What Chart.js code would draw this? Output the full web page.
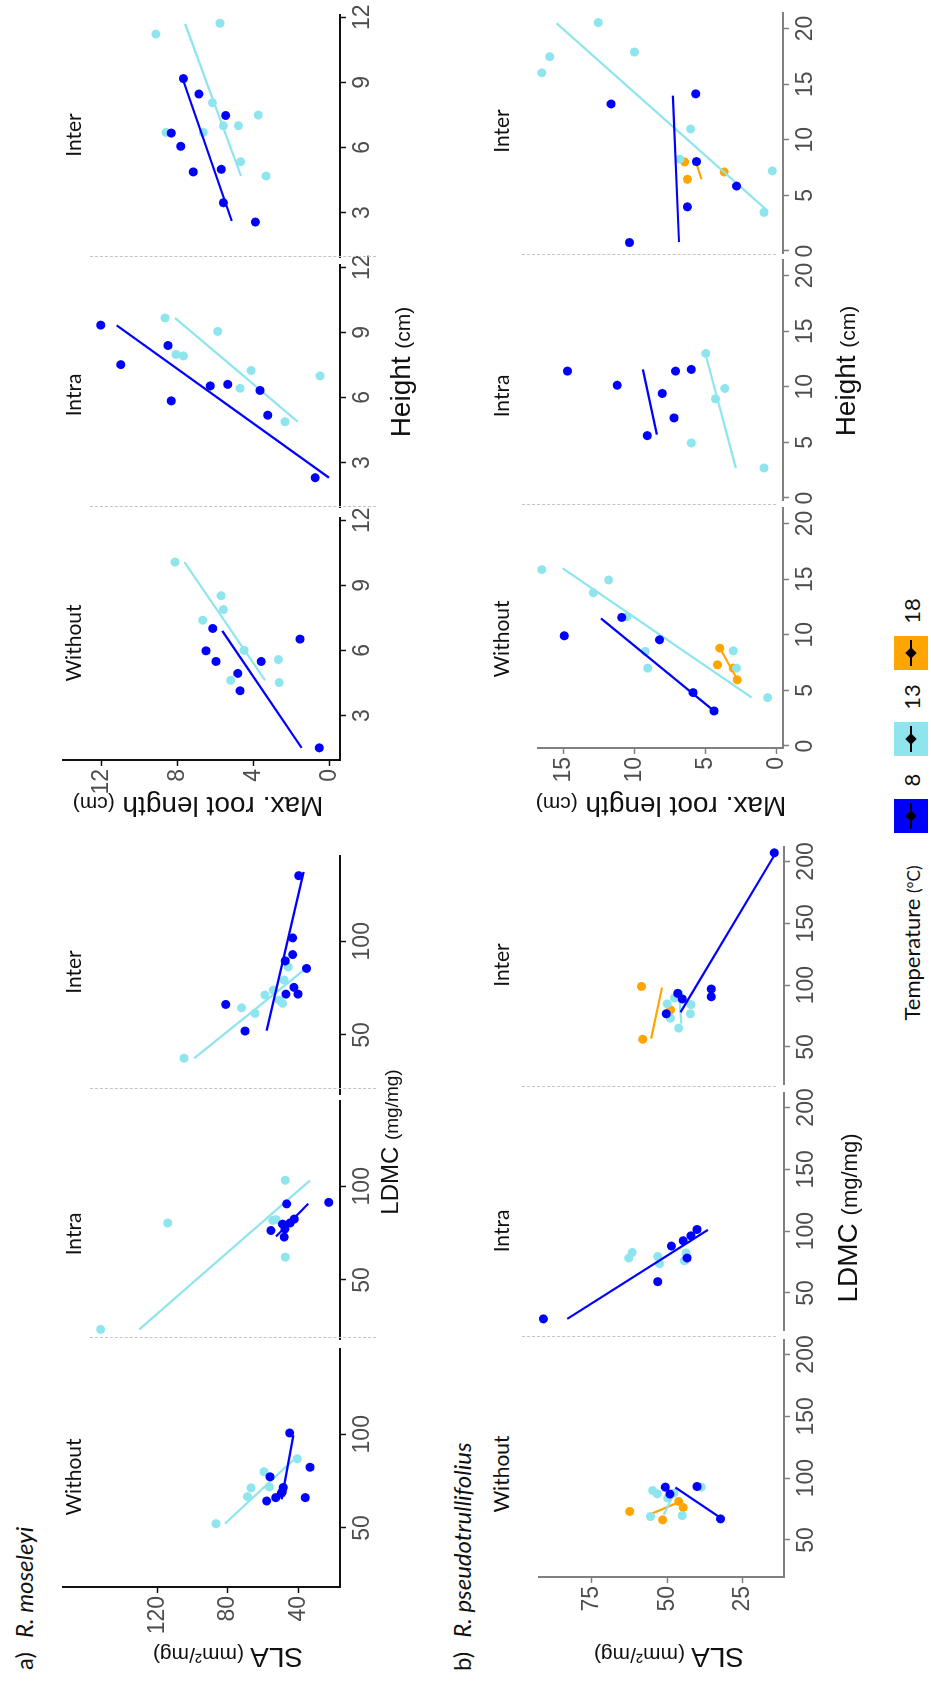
<!DOCTYPE html>
<html>
<head>
<meta charset="utf-8">
<script src="https://cdn.jsdelivr.net/npm/chart.js@4.4.0/dist/chart.umd.min.js"></script>
<style>
    html, body { margin: 0; padding: 0; background: #fff; overflow: hidden; width: 931px; height: 1686px; }
    /* the figure is laid out landscape, then turned a quarter turn to the left */
    #fig { position: absolute; left: 0; top: 0; width: 1686px; height: 931px;
           transform-origin: 0 0; transform: translate(0, 1686px) rotate(-90deg); }
    #fig canvas { position: absolute; }
    .txt { position: absolute; white-space: nowrap; line-height: 1; transform: translate(-50%, -50%); color: #111; }
    .dash { position: absolute; width: 0; border-left: 1.5px dashed #c4c4c4; }
</style>
</head>
<body>
<div id="fig"></div>
<script>
// ---------- data: [x, y] pairs ----------
// a) R. moseleyi — SLA (y) against LDMC (x)
const aSlaWithout8 = [[100.7, 45.1], [77.3, 56.2], [64.4, 58.1], [66.2, 53.0], [69.3, 49.3], [71.6, 48.7], [68.5, 49.8], [66.2, 36.3], [82.4, 33.6]];
const aSlaWithout13 = [[52.3, 86.8], [66.7, 68.9], [71.4, 67.0], [80.0, 59.6], [71.9, 56.6], [86.9, 40.8]];
const aSlaWithoutFit8 = [[65.3, 49.6], [99.5, 43.0]];
const aSlaWithoutFit13 = [[52.3, 81.7], [86.3, 43.0]];

const aSlaIntra8 = [[90.6, 46.8], [91.4, 23.0], [76.4, 55.7], [79.8, 49.1], [77.2, 47.8], [72.9, 48.2], [80.4, 44.9], [82.5, 42.5]];
const aSlaIntra13 = [[23.6, 152.1], [80.4, 114.1], [103.2, 47.6], [81.8, 54.7], [82.2, 52.8], [62.2, 47.6]];
const aSlaIntraFit8 = [[73.2, 52.8], [90.7, 34.6]];
const aSlaIntraFit13 = [[23.6, 130.2], [103.1, 33.6]];

const aSlaInter8 = [[66.3, 81.3], [52.1, 70.4], [71.8, 47.2], [101.8, 43.4], [92.9, 43.4], [89.5, 47.6], [75.4, 42.7], [71.8, 40.4], [85.5, 35.5], [135, 40]];
const aSlaInter13 = [[37.6, 104.9], [64.5, 72.3], [61.5, 64.7], [71.3, 59.1], [73.9, 54.4], [68.6, 51.0], [66.9, 49.1], [79.3, 48.2], [86.3, 45.9]];
const aSlaInterFit8 = [[52.3, 58.1], [137, 37.2]];
const aSlaInterFit13 = [[37.6, 99.1], [85.1, 36.4]];

// a) R. moseleyi — max. root length (y) against height (x)
const aRootWithout8 = [[1.51, 0.53], [6.52, 1.55], [5.49, 3.6], [5.98, 6.51], [5.49, 5.98], [7.01, 6.15], [4.94, 4.83], [4.14, 4.71]];
const aRootWithout13 = [[10.07, 8.14], [8.52, 5.71], [7.88, 5.59], [7.39, 6.68], [4.62, 5.2], [5.58, 2.69], [4.52, 2.65], [6.0, 4.5]];
const aRootWithoutFit8 = [[1.51, 1.46], [6.9, 5.65]];
const aRootWithoutFit13 = [[4.62, 3.39], [10.07, 7.65]];

const aRootIntra8 = [[8.39, 8.51], [5.84, 8.34], [6.53, 6.28], [6.6, 5.36], [6.32, 3.66], [5.18, 3.25], [2.3, 0.75], [9.33, 12.06], [7.51, 11.0]];
const aRootIntra13 = [[9.66, 8.67], [7.98, 8.09], [7.91, 7.7], [9.04, 5.89], [7.24, 4.13], [6.42, 4.71], [4.88, 2.34], [6.99, 0.49]];
const aRootIntraFit8 = [[2.3, 0.02], [9.32, 11.22]];
const aRootIntraFit13 = [[4.88, 1.67], [9.66, 8.14]];

const aRootInter8 = [[9.17, 7.7], [8.46, 6.88], [7.47, 5.47], [6.66, 8.34], [6.05, 7.84], [4.87, 7.18], [4.99, 5.7], [3.45, 5.59], [2.56, 3.9]];
const aRootInter13 = [[11.22, 9.15], [11.72, 5.77], [8.06, 6.17], [6.69, 8.62], [6.69, 6.65], [7.0, 5.59], [7.0, 4.8], [7.49, 3.75], [5.34, 4.68], [4.68, 3.34]];
const aRootInterFit8 = [[2.61, 5.15], [9.22, 7.76]];
const aRootInterFit13 = [[4.68, 4.66], [11.69, 7.61]];

// b) R. pseudotrullifolius — SLA (y) against LDMC (x)
const bSlaWithout8 = [[92.7, 50.6], [93.2, 40.1], [67.0, 32.3], [87.1, 49.1]];
const bSlaWithout13 = [[90.0, 54.8], [87.3, 53.3], [92.7, 38.7], [83.8, 49.8], [87.8, 47.8], [68.9, 55.5], [69.7, 45.0]];
const bSlaWithout18 = [[73.0, 62.4], [66.2, 51.5], [81.1, 46.2], [76.2, 44.7]];
const bSlaWithoutFit8 = [[67.0, 31.8], [92.4, 47.3]];
const bSlaWithoutFit13 = [[70.3, 51.1], [88.4, 47.6]];
const bSlaWithoutFit18 = [[70.8, 55.5], [81.1, 45.6]];

const bSlaIntra8 = [[29.0, 91.0], [59.1, 53.1], [87.9, 48.6], [92.2, 44.7], [96.2, 42.1], [101.3, 40.1], [78.2, 43.4]];
const bSlaIntra13 = [[78.2, 62.7], [82.7, 61.6], [73.6, 52.5], [79.5, 53.1], [82.3, 43.7], [76.0, 44.3]];
const bSlaIntraFit8 = [[29.0, 83.1], [101.0, 36.5]];

const bSlaInter8 = [[76.8, 50.3], [93.3, 46.5], [96.8, 35.4], [90.6, 35.4], [88.8, 45.0], [207, 14.5]];
const bSlaInter13 = [[84.8, 50.0], [73.2, 48.9], [65.2, 46.2], [76.8, 42.3], [84.2, 42.1], [93.3, 46.2], [89.6, 47.6]];
const bSlaInter18 = [[98.9, 58.5], [56.2, 58.1], [80.0, 48.9], [90.6, 46.7]];
const bSlaInterFit8 = [[78.0, 45.6], [205, 14.5]];
const bSlaInterFit13 = [[68.8, 45.3], [91.4, 46.0]];
const bSlaInterFit18 = [[56.7, 55.3], [98.0, 51.7]];

// b) R. pseudotrullifolius — max. root length (y) against height (x)
const bRootWithout8 = [[9.91, 14.98], [11.56, 10.93], [9.55, 8.26], [4.8, 5.9], [3.15, 4.42]];
const bRootWithout13 = [[15.86, 16.56], [14.93, 11.85], [13.78, 12.93], [11.62, 10.57], [8.5, 9.27], [7.0, 9.09], [8.56, 3.07], [7.0, 2.83], [4.35, 0.64]];
const bRootWithout18 = [[8.8, 4.01], [7.3, 4.18], [7.0, 3.07], [5.95, 2.79]];
const bRootWithoutFit8 = [[2.97, 4.25], [11.47, 12.39]];
const bRootWithoutFit13 = [[4.36, 1.77], [15.98, 15.1]];
const bRootWithoutFit18 = [[6.1, 2.83], [8.8, 4.01]];

const bRootIntra8 = [[10.14, 11.25], [9.4, 8.07], [7.2, 7.24], [5.61, 9.13], [11.41, 14.75], [11.41, 7.13], [11.56, 6.02]];
const bRootIntra13 = [[4.95, 6.02], [8.92, 4.32], [9.85, 3.66], [2.7, 0.9], [13.0, 5.0]];
const bRootIntraFit8 = [[5.7, 8.45], [11.56, 9.44]];
const bRootIntraFit13 = [[2.7, 2.88], [12.6, 4.95]];

const bRootInter8 = [[13.22, 11.68], [14.13, 5.71], [8.04, 5.66], [5.84, 2.83], [3.97, 6.3], [0.76, 10.38]];
const bRootInter13 = [[20.54, 12.58], [17.89, 10.03], [17.47, 16.0], [16.02, 16.56], [10.97, 6.07], [8.26, 6.84], [7.2, 0.31], [3.47, 0.9]];
const bRootInter18 = [[8.01, 6.49], [6.45, 6.3], [7.11, 3.71]];
const bRootInterFit8 = [[0.81, 6.89], [13.97, 7.32]];
const bRootInterFit13 = [[3.68, 0.71], [20.48, 15.53]];
const bRootInterFit18 = [[6.45, 5.31], [7.83, 5.66]];

// tick values
const aSlaTicks = [40, 80, 120];
const aLdmcTicks = [50, 100];
const aRootTicks = [0, 4, 8, 12];
const aHeightTicks = [3, 6, 9, 12];
const bSlaTicks = [25, 50, 75];
const bLdmcTicks = [50, 100, 150, 200];
const bRootTicks = [0, 5, 10, 15];
const bHeightTicks = [0, 5, 10, 15, 20];

const temperatures = ['8', '13', '18'];
const panelNames = ['Without', 'Intra', 'Inter'];

// ---------- styling ----------
const tempColors = { 8: '#0000ff', 13: '#8ee5ee', 18: '#ffa500' };
const PAD = { l: 80, t: 20, r: 30, b: 50 };
const fig = document.getElementById('fig');
Chart.defaults.font.family = "'Liberation Sans', Arial, sans-serif";

// plot rectangles [left, top, width, height] in the unrotated figure
const panels = [
    { row: 'a', rect: [99, 63, 238, 277], title: [209, 72], x: [18.5, 145.5], y: [16.6, 173.4], xt: aLdmcTicks, yt: aSlaTicks, showY: true,
      series: [[8, aSlaWithout8, aSlaWithoutFit8], [13, aSlaWithout13, aSlaWithoutFit13]] },
    { row: 'a', rect: [347, 63, 238, 277], title: [452, 72], x: [18.5, 145.5], y: [16.6, 173.4], xt: aLdmcTicks, yt: aSlaTicks,
      series: [[8, aSlaIntra8, aSlaIntraFit8], [13, aSlaIntra13, aSlaIntraFit13]] },
    { row: 'a', rect: [592, 63, 238, 277], title: [714, 72], x: [18.5, 145.5], y: [16.6, 173.4], xt: aLdmcTicks, yt: aSlaTicks,
      series: [[8, aSlaInter8, aSlaInterFit8], [13, aSlaInter13, aSlaInterFit13]] },
    { row: 'a', rect: [926, 63, 242, 277], title: [1043, 72], x: [0.95, 12.1], y: [-0.56, 14.05], xt: aHeightTicks, yt: aRootTicks, showY: true,
      series: [[8, aRootWithout8, aRootWithoutFit8], [13, aRootWithout13, aRootWithoutFit13]] },
    { row: 'a', rect: [1179, 63, 242, 277], title: [1291, 72], x: [0.95, 12.1], y: [-0.56, 14.05], xt: aHeightTicks, yt: aRootTicks,
      series: [[8, aRootIntra8, aRootIntraFit8], [13, aRootIntra13, aRootIntraFit13]] },
    { row: 'a', rect: [1429, 63, 242, 277], title: [1551, 72], x: [0.95, 12.1], y: [-0.56, 14.05], xt: aHeightTicks, yt: aRootTicks,
      series: [[8, aRootInter8, aRootInterFit8], [13, aRootInter13, aRootInterFit13]] },

    { row: 'b', rect: [109, 539, 237, 245], title: [212, 500], x: [20, 211.7], y: [11.3, 92.45], xt: bLdmcTicks, yt: bSlaTicks, showY: true,
      series: [[8, bSlaWithout8, bSlaWithoutFit8], [13, bSlaWithout13, bSlaWithoutFit13], [18, bSlaWithout18, bSlaWithoutFit18]] },
    { row: 'b', rect: [356, 539, 237, 245], title: [455, 500], x: [20, 211.7], y: [11.3, 92.45], xt: bLdmcTicks, yt: bSlaTicks,
      series: [[8, bSlaIntra8, bSlaIntraFit8], [13, bSlaIntra13, null]] },
    { row: 'b', rect: [602, 539, 237, 245], title: [721, 500], x: [20, 211.7], y: [11.3, 92.45], xt: bLdmcTicks, yt: bSlaTicks,
      series: [[8, bSlaInter8, bSlaInterFit8], [13, bSlaInter13, bSlaInterFit13], [18, bSlaInter18, bSlaInterFit18]] },
    { row: 'b', rect: [938, 538, 240, 245], title: [1047, 500], x: [-0.18, 21.4], y: [-0.44, 16.83], xt: bHeightTicks, yt: bRootTicks, showY: true,
      series: [[8, bRootWithout8, bRootWithoutFit8], [13, bRootWithout13, bRootWithoutFit13], [18, bRootWithout18, bRootWithoutFit18]] },
    { row: 'b', rect: [1186, 538, 240, 245], title: [1290, 500], x: [-0.18, 21.4], y: [-0.44, 16.83], xt: bHeightTicks, yt: bRootTicks,
      series: [[8, bRootIntra8, bRootIntraFit8], [13, bRootIntra13, bRootIntraFit13]] },
    { row: 'b', rect: [1433, 538, 240, 245], title: [1555, 500], x: [-0.18, 21.4], y: [-0.44, 16.83], xt: bHeightTicks, yt: bRootTicks,
      series: [[8, bRootInter8, bRootInterFit8], [13, bRootInter13, bRootInterFit13], [18, bRootInter18, bRootInterFit18]] }
];

function axis(range, ticks, show, col, fit) {
    return {
        type: 'linear', min: range[0], max: range[1], bounds: 'data',
        afterBuildTicks: s => { s.ticks = ticks.map(v => ({ value: v })); },
        afterFit: fit,
        grid: { display: show, drawOnChartArea: false, drawTicks: true, tickLength: 6, tickColor: col, tickWidth: 1.5 },
        border: { display: show, color: col, width: 2 },
        ticks: { display: show, color: '#4d4d4d', font: { size: 23 }, padding: 3, maxRotation: 0, autoSkip: false }
    };
}

function drawPanel(p, idx) {
    const [L, T, W, H] = p.rect;
    const cv = document.createElement('canvas');
    cv.width = W + PAD.l + PAD.r;
    cv.height = H + PAD.t + PAD.b;
    cv.style.left = (L - PAD.l) + 'px';
    cv.style.top = (T - PAD.t) + 'px';
    fig.appendChild(cv);

    const col = p.row === 'a' ? '#111' : '#808080';
    const datasets = [];
    p.series.forEach(([temp, pts, fitLine]) => {
        const c = tempColors[temp];
        datasets.push({ data: pts.map(([x, y]) => ({ x, y })), backgroundColor: c, borderWidth: 0,
                        pointRadius: 4.5, showLine: false, clip: false });
        if (fitLine) {
            datasets.push({ data: fitLine.map(([x, y]) => ({ x, y })), borderColor: c, borderWidth: 2.2,
                            pointRadius: 0, showLine: true, clip: false });
        }
    });

    new Chart(cv, {
        type: 'scatter',
        data: { datasets },
        options: {
            responsive: false, animation: false, events: [], devicePixelRatio: 1,
            layout: { padding: { left: 0, top: PAD.t, right: PAD.r, bottom: 0 } },
            plugins: { legend: { display: false }, tooltip: { enabled: false } },
            scales: {
                x: axis(p.x, p.xt, true, col, s => { s.height = PAD.b; }),
                y: axis(p.y, p.yt, !!p.showY, col, s => { s.width = PAD.l; })
            }
        }
    });

    addText(panelNames[idx % 3], p.title[0], p.title[1], { font: "21px Lato, sans-serif" });
}

function addText(html, x, y, css) {
    const d = document.createElement('div');
    d.className = 'txt';
    d.innerHTML = html;
    d.style.left = x + 'px';
    d.style.top = y + 'px';
    Object.assign(d.style, css || {});
    fig.appendChild(d);
    return d;
}

function addDash(x, y1, y2) {
    const d = document.createElement('div');
    d.className = 'dash';
    Object.assign(d.style, { left: x + 'px', top: y1 + 'px', height: (y2 - y1) + 'px' });
    fig.appendChild(d);
}

panels.forEach(drawPanel);

// panel separators
[348, 597, 1179, 1429].forEach(x => addDash(x, 90, 376));
[349, 599, 1181, 1431].forEach(x => addDash(x, 522, 776));

// row labels
const rowFont = "24px Lato, sans-serif";
addText('a)<span style="margin-left:14px;font-style:italic">R. moseleyi</span>', 16, 23, { font: rowFont, transform: 'translate(0,-50%)' });
addText('b)<span style="margin-left:14px;font-style:italic">R. pseudotrullifolius</span>', 15, 461, { font: rowFont, transform: 'translate(0,-50%)' });

// axis titles
const titleFont = "'Liberation Sans', Arial, sans-serif";
const slaTitle = 'SLA <span style="font-size:21px">(mm²/mg)</span>';
const rootTitle = 'Max. root length <span style="font-size:21px">(cm)</span>';
const vert = { fontFamily: titleFont, fontSize: '28px', transform: 'translate(-50%,-50%) rotate(-90deg)' };
addText(slaTitle, 29, 228, vert);
addText(slaTitle, 29, 669, vert);
addText(rootTitle, 880, 198, vert);
addText(rootTitle, 880, 661, vert);

addText('LDMC <span style="font-size:19px">(mg/mg)</span>', 544, 390, { fontFamily: titleFont, fontSize: '24px' });
addText('Height <span style="font-size:21px">(cm)</span>', 1314, 401, { fontFamily: titleFont, fontSize: '28px' });
addText('LDMC <span style="font-size:22px">(mg/mg)</span>', 468, 848, { fontFamily: titleFont, fontSize: '28px' });
addText('Height <span style="font-size:21px">(cm)</span>', 1315, 846, { fontFamily: titleFont, fontSize: '28px' });

// temperature legend
addText('Temperature <span style="font-size:17px">(°C)</span>', 743, 911, { font: "22px Lato, sans-serif" });
const keyX = [853, 930, 1016];
const keyLabelX = [906, 989, 1075];
temperatures.forEach((t, i) => {
    const box = document.createElement('div');
    Object.assign(box.style, { position: 'absolute', left: keyX[i] + 'px', top: '894px', width: '34px', height: '34px',
                               background: tempColors[t] });
    const bar = document.createElement('div');
    Object.assign(bar.style, { position: 'absolute', left: '4px', top: '16px', width: '26px', height: '2px', background: '#000' });
    const dia = document.createElement('div');
    Object.assign(dia.style, { position: 'absolute', left: '13px', top: '13px', width: '8px', height: '8px', background: '#000',
                               transform: 'rotate(45deg)' });
    box.appendChild(bar);
    box.appendChild(dia);
    fig.appendChild(box);
    addText(t, keyLabelX[i], 911, { font: "22px Lato, sans-serif" });
});
</script>
</body>
</html>
